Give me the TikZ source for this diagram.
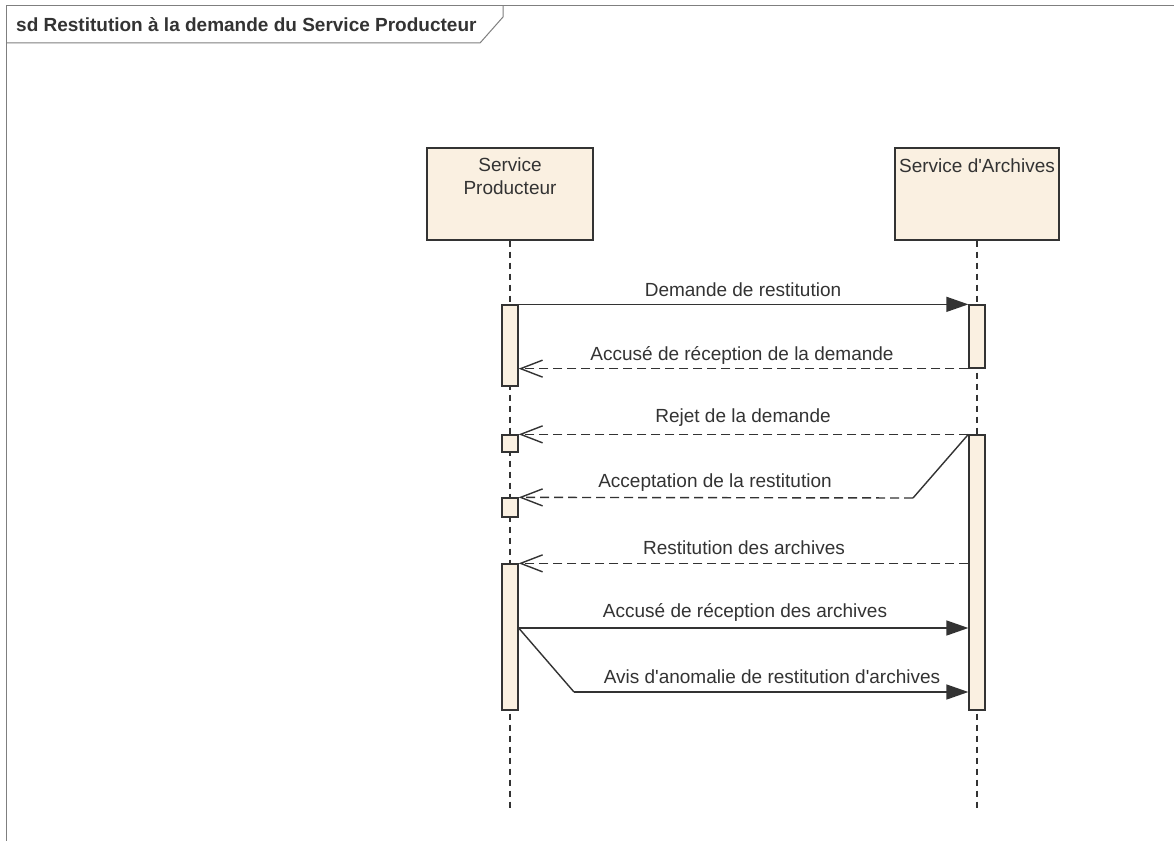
\documentclass[tikz,border=0pt]{standalone}
\usepackage{fontspec}
\setmainfont{Liberation Sans}[Ligatures=TeXOff]
\usetikzlibrary{arrows.meta}
\definecolor{lc}{HTML}{333333}
\definecolor{fillc}{HTML}{FAF0E1}
\definecolor{framec}{HTML}{7F7F7F}
\begin{document}
\begin{tikzpicture}[x=1pt,y=-1pt,
 lbl/.style={font=\fontsize{19}{23}\selectfont, text=lc, inner sep=0pt},
 titlelbl/.style={font=\fontsize{19}{23}\selectfont\bfseries, text=lc, inner sep=0pt, anchor=west},
 head/.style={draw=lc, line width=1.3pt, fill=fillc, minimum height=92pt, inner sep=0pt},
 bar/.style={draw=lc, line width=1.3pt, fill=fillc, minimum width=16pt, inner sep=0pt},
 life/.style={draw=lc, line width=1.1pt, dash pattern=on 6pt off 5pt},
 sync/.style={draw=lc, line width=1.4pt, -{Triangle[length=22pt,width=15pt]}},
 reply/.style={draw=lc, line width=1.4pt, dash pattern=on 9pt off 5pt, -{Straight Barb[length=22pt,width=17pt,line width=1.4pt]}},
 solidseg/.style={draw=lc, line width=1.4pt},
 frameline/.style={draw=framec, line width=1pt}]
\useasboundingbox (0,0) rectangle (1174,840);
\fill[white] (0,0) rectangle (1174,840);
\clip (0,0) rectangle (1174,840);
% frame
\draw[frameline] (6,860) -- (6,6) -- (1190,6);
\draw[frameline] (6,43) -- (480,43) -- (503,17) -- (503,6);
\node[titlelbl] (title) at (16,25) {sd Restitution à la demande du Service Producteur};
% lifeline heads
\node[head, minimum width=166pt] (hp) at (510,194) {};
\node[head, minimum width=164pt] (ha) at (977,194) {};
\node[lbl, align=center] (hpt) at (510,176.5) {Service\\Producteur};
\node[lbl] (hat) at (977,166) {Service d'Archives};
\coordinate (bot) at (0,812);
\draw[life] (hp.south) -- (hp.south |- bot);
\draw[life] (ha.south) -- (ha.south |- bot);
% activation bars
\node[bar, minimum height=81pt] (pb1) at (510,345.5) {};
\node[bar, minimum height=63pt] (ab1) at (977,336.5) {};
\node[bar, minimum height=17pt] (pb2) at (510,443.5) {};
\node[bar, minimum height=19pt] (pb3) at (510,507.5) {};
\node[bar, minimum height=275pt] (ab2) at (977,572.5) {};
\node[bar, minimum height=146pt] (pb4) at (510,637) {};
% messages
\draw[sync] (pb1.north east) -- (ab1.north west);
\node[lbl] (m1) at (743,290) {Demande de restitution};
\draw[reply] (ab1.south west) -- (ab1.south west -| pb1.east);
\node[lbl] (m2) at (742,355) {Accusé de réception de la demande};
\draw[reply] (ab2.north west) -- (pb2.north east);
\node[lbl] (m3) at (743,418) {Rejet de la demande};
\coordinate (b1) at (913,498);
\draw[solidseg] (ab2.north west) -- (b1);
\draw[reply] (b1) -- (pb3.north east);
\node[lbl] (m4) at (715,483) {Acceptation de la restitution};
\draw[reply] (ab2.west |- pb4.north) -- (pb4.north east);
\node[lbl] (m5) at (744,548) {Restitution des archives};
\coordinate (s6) at (518,628);
\draw[sync] (pb4.east |- s6) -- (ab2.west |- s6);
\node[lbl] (m6) at (745,612) {Accusé de réception des archives};
\coordinate (b2) at (574,692);
\draw[solidseg] (pb4.east |- s6) -- (b2);
\draw[sync] (b2) -- (ab2.west |- b2);
\node[lbl] (m7) at (772,677) {Avis d'anomalie de restitution d'archives};
\end{tikzpicture}
\end{document}
